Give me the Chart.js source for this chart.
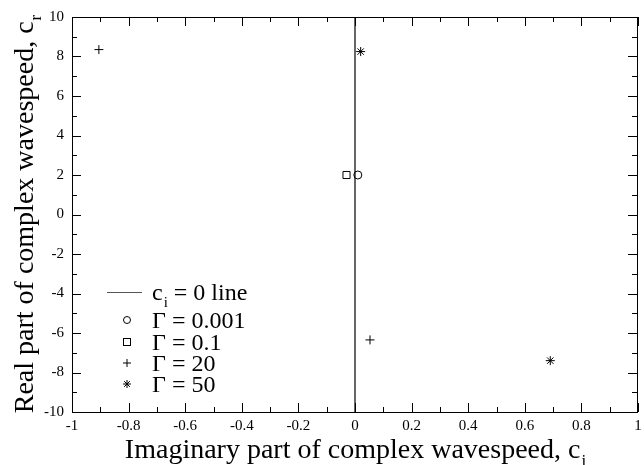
<!DOCTYPE html>
<html>
<head>
<meta charset="utf-8">
<script src="https://cdn.jsdelivr.net/npm/chart.js@4.4.0/dist/chart.umd.min.js"></script>
<style>
  html, body { margin: 0; padding: 0; background: #fff; }
  #wrap { width: 644px; height: 465px; position: relative; }
</style>
</head>
<body>
<div id="wrap"><canvas id="wavespeedChart"></canvas></div>
<script>
// eigenvalues: imaginary part (x) vs real part (y)
const zeroLineX = [0, 0];
const zeroLineY = [-10, 10];
const gamma0001X = [0.01];
const gamma0001Y = [2.0];
const gamma01X = [-0.03];
const gamma01Y = [2.0];
const gamma20X = [-0.905, 0.053];
const gamma20Y = [8.35, -6.35];
const gamma50X = [0.02, 0.69];
const gamma50Y = [8.25, -7.4];

const xTickValues = [-1, -0.8, -0.6, -0.4, -0.2, 0, 0.2, 0.4, 0.6, 0.8, 1];
const yTickValues = [-10, -8, -6, -4, -2, 0, 2, 4, 6, 8, 10];

const FONT = "'Liberation Serif', 'Times New Roman', serif";

const toPoints = (xs, ys) => xs.map((x, i) => ({ x: x, y: ys[i] }));

// text with a subscript, e.g. c_i
function subText(ctx, main, sub, x, y, size, align) {
    ctx.font = size + 'px ' + FONT;
    const wMain = ctx.measureText(main).width;
    const subSize = Math.round(size * 0.62);
    ctx.font = subSize + 'px ' + FONT;
    const wSub = ctx.measureText(sub).width;
    let start = x;
    if (align === 'center') start = x - (wMain + wSub) / 2;
    ctx.textAlign = 'left';
    ctx.textBaseline = 'alphabetic';
    ctx.font = size + 'px ' + FONT;
    ctx.fillText(main, start, y);
    ctx.font = subSize + 'px ' + FONT;
    ctx.fillText(sub, start + wMain + 1, y + size * 0.28);
    return start + wMain + wSub + 1;
}

const framePlugin = {
    id: 'frame',
    afterDraw(chart) {
        const ctx = chart.ctx;
        const a = chart.chartArea;
        const xs = chart.scales.x;
        const ys = chart.scales.y;
        ctx.save();
        ctx.strokeStyle = '#000';
        ctx.fillStyle = '#000';
        ctx.lineWidth = 1;

        // box
        ctx.strokeRect(Math.round(a.left) + 0.5, Math.round(a.top) + 0.5,
            Math.round(a.right - a.left) - 1, Math.round(a.bottom - a.top));

        // inward ticks on all four sides, minor ones in between
        ctx.beginPath();
        for (let i = 0; i <= 20; i++) {
            const v = -1 + i * 0.1;
            const px = Math.round(xs.getPixelForValue(v)) + 0.5;
            const len = i % 2 === 0 ? 9 : 5;
            ctx.moveTo(px, a.bottom); ctx.lineTo(px, a.bottom - len);
            ctx.moveTo(px, a.top); ctx.lineTo(px, a.top + len);
        }
        for (let i = 0; i <= 20; i++) {
            const v = -10 + i;
            const py = Math.round(ys.getPixelForValue(v)) + 0.5;
            const len = i % 2 === 0 ? 9 : 5;
            ctx.moveTo(a.left, py); ctx.lineTo(a.left + len, py);
            ctx.moveTo(a.right - 1, py); ctx.lineTo(a.right - 1 - len, py);
        }
        ctx.stroke();

        // axis titles
        const cx = (a.left + a.right) / 2;
        subText(ctx, 'Imaginary part of complex wavespeed, c', 'i', cx, 458, 28, 'center');
        ctx.save();
        ctx.translate(33, (a.top + a.bottom) / 2);
        ctx.rotate(-Math.PI / 2);
        subText(ctx, 'Real part of complex wavespeed, c', 'r', 0, 0, 28, 'center');
        ctx.restore();

        // legend
        const lx = 127, tx = 152;
        const rows = [292, 320, 342, 363, 384];
        ctx.lineWidth = 1;
        ctx.strokeStyle = '#555';
        ctx.beginPath();
        ctx.moveTo(107, rows[0] + 0.5); ctx.lineTo(142, rows[0] + 0.5);
        ctx.stroke();
        ctx.strokeStyle = '#000';
        ctx.beginPath();
        ctx.arc(lx, rows[1], 3.5, 0, Math.PI * 2);
        ctx.stroke();
        ctx.strokeRect(lx - 3.5, rows[2] - 3.5, 7, 7);
        ctx.beginPath();
        ctx.moveTo(lx - 4, rows[3]); ctx.lineTo(lx + 4, rows[3]);
        ctx.moveTo(lx, rows[3] - 4); ctx.lineTo(lx, rows[3] + 4);
        for (let k = 0; k < 4; k++) {
            const ang = k * Math.PI / 4;
            ctx.moveTo(lx - 4 * Math.cos(ang), rows[4] - 4 * Math.sin(ang));
            ctx.lineTo(lx + 4 * Math.cos(ang), rows[4] + 4 * Math.sin(ang));
        }
        ctx.stroke();

        const lsize = 24;
        const labelBase = 8;
        let endX = subText(ctx, 'c', 'i', tx, rows[0] + labelBase, lsize, 'left');
        ctx.font = lsize + 'px ' + FONT;
        ctx.fillText(' = 0 line', endX, rows[0] + labelBase);
        ctx.fillText('\u0393 = 0.001', tx, rows[1] + labelBase);
        ctx.fillText('\u0393 = 0.1', tx, rows[2] + labelBase);
        ctx.fillText('\u0393 = 20', tx, rows[3] + labelBase);
        ctx.fillText('\u0393 = 50', tx, rows[4] + labelBase);
        ctx.restore();
    }
};

new Chart(document.getElementById('wavespeedChart'), {
    type: 'scatter',
    data: {
        datasets: [
            {
                label: 'ci = 0 line',
                data: toPoints(zeroLineX, zeroLineY),
                showLine: true,
                borderColor: '#000',
                borderWidth: 1.2,
                pointRadius: 0
            },
            {
                label: '\u0393 = 0.001',
                data: toPoints(gamma0001X, gamma0001Y),
                pointStyle: 'circle',
                pointRadius: 4,
                borderColor: '#000',
                backgroundColor: '#fff',
                borderWidth: 1
            },
            {
                label: '\u0393 = 0.1',
                data: toPoints(gamma01X, gamma01Y),
                pointStyle: 'rect',
                pointRadius: 5,
                borderColor: '#000',
                backgroundColor: '#fff',
                borderWidth: 1
            },
            {
                label: '\u0393 = 20',
                data: toPoints(gamma20X, gamma20Y),
                pointStyle: 'cross',
                pointRadius: 4.5,
                borderColor: '#000',
                borderWidth: 1
            },
            {
                label: '\u0393 = 50',
                data: toPoints(gamma50X, gamma50Y),
                pointStyle: 'star',
                pointRadius: 4.5,
                borderColor: '#000',
                borderWidth: 1
            }
        ]
    },
    options: {
        responsive: true,
        maintainAspectRatio: false,
        animation: false,
        layout: { padding: { top: 15, right: -2, left: 0, bottom: 0 } },
        plugins: {
            legend: { display: false },
            tooltip: { enabled: false }
        },
        scales: {
            x: {
                type: 'linear',
                min: -1,
                max: 1,
                afterFit: (scale) => {
                    scale.height = 53;
                    scale.paddingLeft = 0;
                    scale.paddingRight = 0;
                },
                afterBuildTicks: (scale) => { scale.ticks = xTickValues.map(v => ({ value: v })); },
                grid: { display: false, drawTicks: false },
                border: { display: false },
                ticks: {
                    autoSkip: false,
                    maxRotation: 0,
                    padding: 5,
                    color: '#000',
                    font: { family: FONT, size: 15 },
                    callback: (v) => String(parseFloat(Number(v).toFixed(1)))
                }
            },
            y: {
                type: 'linear',
                min: -10,
                max: 10,
                afterFit: (scale) => { scale.width = 72; },
                afterBuildTicks: (scale) => { scale.ticks = yTickValues.map(v => ({ value: v })); },
                grid: { display: false, drawTicks: false },
                border: { display: false },
                ticks: {
                    autoSkip: false,
                    padding: 8,
                    color: '#000',
                    font: { family: FONT, size: 15 },
                    callback: (v) => String(v)
                }
            }
        }
    },
    plugins: [framePlugin]
});
</script>
</body>
</html>
